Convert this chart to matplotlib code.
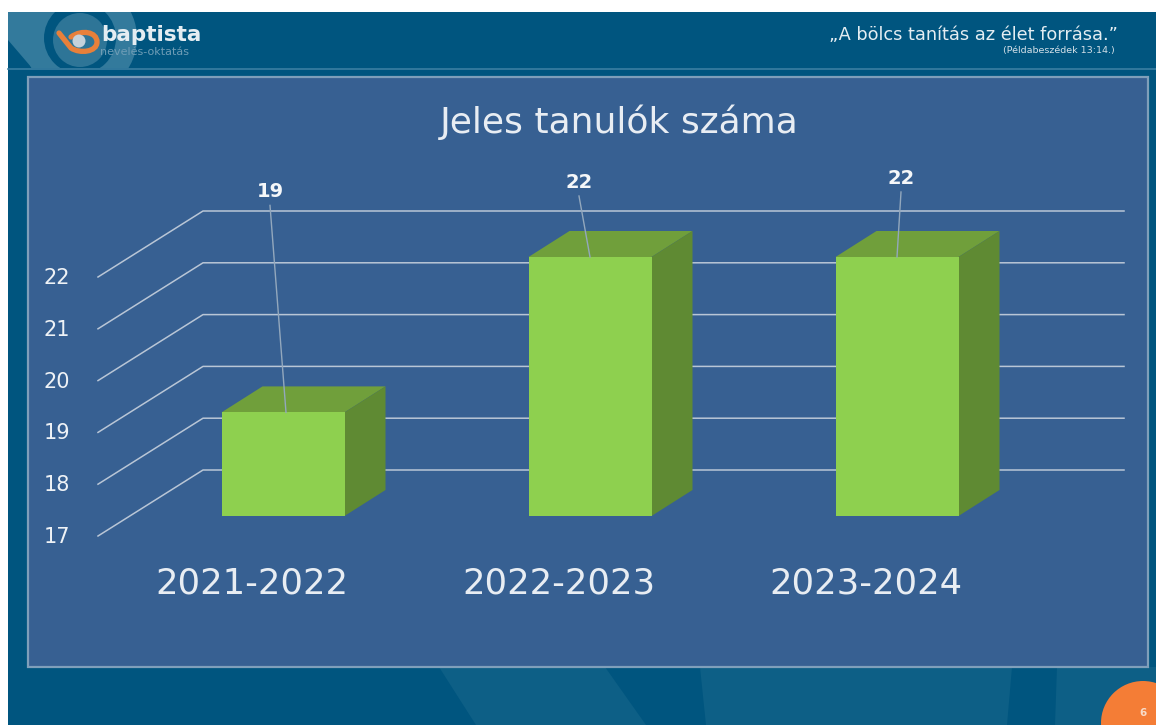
import numpy as np
import matplotlib
matplotlib.use('Agg')
import matplotlib.pyplot as plt
from matplotlib.patches import Polygon, Rectangle, Circle, PathPatch
from matplotlib.path import Path

plt.rcParams['font.family'] = ['DejaVu Sans']

categories = ['2021-2022', '2022-2023', '2023-2024']
values = [19, 22, 22]
y_ticks = [17, 18, 19, 20, 21, 22]
title = 'Jeles tanulók száma'

W, H = 1156, 725
SLIDE = '#00557f'
SHAPE = '#0d5f86'
PALE = '#337a9c'
PANEL = '#376092'
EDGE = '#7f9fba'
GRID = '#b9c6d6'
FRONT = '#8ed04f'
TOP = '#709f3b'
SIDE = '#5f8a33'
ORANGE = '#e8803a'

fig = plt.figure(figsize=(W / 100, H / 100), dpi=100, facecolor='white')

# background, in pixels of the slide
bg = fig.add_axes([0, 0, 1, 1])
bg.set_xlim(0, W)
bg.set_ylim(H, 0)
bg.axis('off')
bg.add_patch(Rectangle((8, 12), W - 8, H - 12, fc=SLIDE, ec='none'))

# header emblem, clipped to the header band
header = Rectangle((8, 12), 200, 56, transform=bg.transData)
for patch in [Polygon([[8, 12], [32, 12], [62, 68], [32, 68], [8, 40]], fc=PALE, ec='none'),
              Circle((80, 38), 57, fc=PALE, ec='none'),
              Circle((80, 38), 36, fc=SLIDE, ec='none'),
              Circle((80, 40), 27, fc='#2e7597', ec='none')]:
    bg.add_patch(patch)
    patch.set_clip_path(header)

# pale shapes under the panel
bg.add_patch(Polygon([[439, 667], [605, 667], [646, 725], [476, 725]], fc=SHAPE, ec='none'))
bg.add_patch(Polygon([[700, 667], [1012, 667], [1007, 725], [706, 725]], fc=SHAPE, ec='none'))
bg.add_patch(Polygon([[1057, 667], [W, 667], [W, 725], [1055, 725]], fc=SHAPE, ec='none'))
bg.plot([8, W], [69, 69], color='#3a7fa3', lw=1.2)
bg.add_patch(Rectangle((28, 77), 1120, 590, fc=PANEL, ec=EDGE, lw=1.6, zorder=3))

# logo
swoosh = Path([(59, 33), (71, 48),
               (80, 54), (97, 52), (97, 42),
               (97, 32), (82, 29), (71, 37)],
              [Path.MOVETO, Path.LINETO,
               Path.CURVE4, Path.CURVE4, Path.CURVE4,
               Path.CURVE4, Path.CURVE4, Path.CURVE4])
bg.add_patch(PathPatch(swoosh, fc='none', ec=ORANGE, lw=3.8, capstyle='round', zorder=4))
bg.add_patch(Circle((79, 41), 6.5, fc='#c5d2da', ec='none', zorder=5))
bg.text(101, 35, 'baptista', color='#e4edf2', fontsize=15.5, fontweight='bold', va='center', ha='left')
bg.text(100, 52, 'nevelés-oktatás', color='#6f9db6', fontsize=8, va='center', ha='left')
bg.text(1118, 35, '„A bölcs tanítás az élet forrása.”', color='#e4edf2', fontsize=12.8, va='center', ha='right')
bg.text(1115, 50, '(Példabeszédek 13:14.)', color='#d4e0e8', fontsize=6.8, va='center', ha='right')

# page number
bg.add_patch(Circle((1143, 723), 42, fc='#f47d36', ec='none'))
bg.text(1143, 713, '6', color='#f8dcc8', fontsize=7.5, ha='center', va='center', fontweight='bold')

# chart axes fill the figure: x is category index, y is the value on the bar plane
PX_X = 307.0
PX_Y = 51.8
X0, Y0 = 283.0, 516.0
ax = fig.add_axes([0, 0, 1, 1])
ax.patch.set_alpha(0)
ax.axis('off')
ax.set_xlim((0 - X0) / PX_X, (W - X0) / PX_X)
ax.set_ylim(17 + (Y0 - H) / PX_Y, 17 + Y0 / PX_Y)

half = 61.5 / PX_X
dx, dy = 41 / PX_X, 26 / PX_Y
x_front = (98 - X0) / PX_X
x_back = (203 - X0) / PX_X
x_end = (1124 - X0) / PX_X
y_front = -20 / PX_Y
y_back = 46 / PX_Y

for v in y_ticks:
    ax.plot([x_front, x_back, x_end], [v + y_front, v + y_back, v + y_back], color=GRID, lw=1.1, zorder=1)
    ax.text((57 - X0) / PX_X, v + y_front - 1 / PX_Y, str(v), color='#eef2f6', fontsize=15,
            ha='center', va='center')

for i, v in enumerate(values):
    ax.add_patch(Rectangle((i - half, 17), 2 * half, v - 17, fc=FRONT, ec='none', zorder=4))
    ax.add_patch(Polygon([[i - half, v], [i + half, v], [i + half + dx, v + dy], [i - half + dx, v + dy]],
                         fc=TOP, ec='none', zorder=3))
    ax.add_patch(Polygon([[i + half, 17], [i + half, v], [i + half + dx, v + dy], [i + half + dx, 17 + dy]],
                         fc=SIDE, ec='none', zorder=3))

# data labels sit away from the bars on thin leaders
label_dx = [-13, -11, 4]
label_dy = [221, 75, 79]
tip_dx = [3, 0, 0]
for i, v in enumerate(values):
    lx = i + label_dx[i] / PX_X
    ly = v + label_dy[i] / PX_Y
    ax.plot([i + tip_dx[i] / PX_X, lx], [v, ly - 14 / PX_Y], color='#93a8bd', lw=1, zorder=5)
    ax.text(lx, ly, str(v), color='#f5f7f9', fontsize=14, fontweight='bold', ha='center', va='center', zorder=6)

for i, c in enumerate(categories):
    ax.text(i - 31 / PX_X, 17 - 68 / PX_Y, c, color='#e8edf3', fontsize=25.5, ha='center', va='center')

ax.text((619 - X0) / PX_X, 17 + 394 / PX_Y, title, color='#e8edf3', fontsize=26, ha='center', va='center')

fig.savefig('out.png', dpi=100)
